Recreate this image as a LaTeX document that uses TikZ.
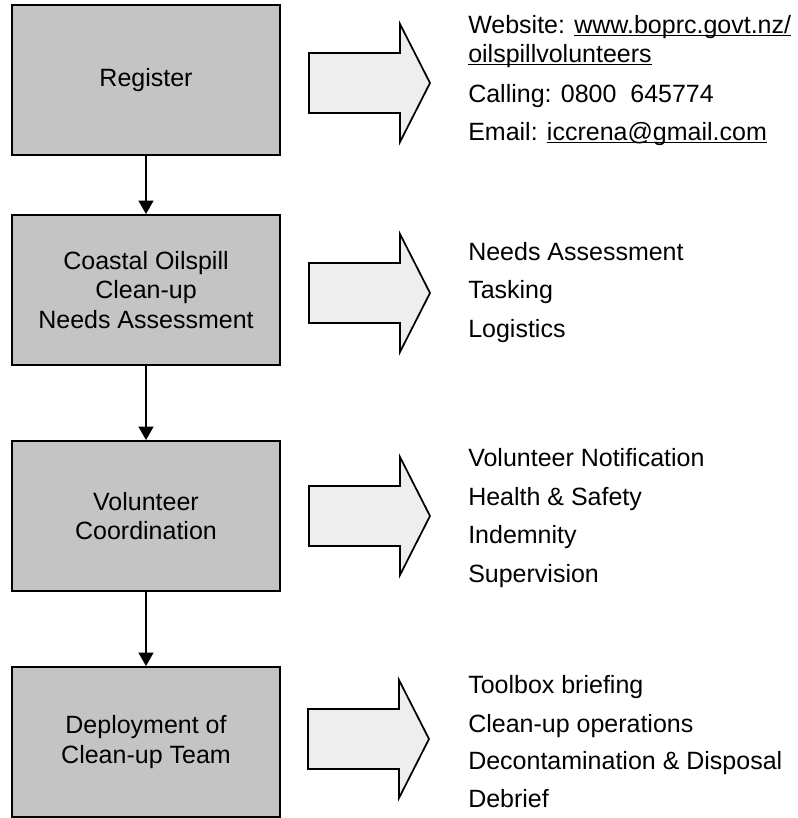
\documentclass[tikz,border=0pt]{standalone}
\usepackage{fontspec}
\setmainfont{Liberation Sans}
\usetikzlibrary{arrows.meta}
\definecolor{boxgray}{RGB}{196,196,196}
\definecolor{arrowgray}{RGB}{238,238,238}
\newcommand\ulink[1]{\setbox0\hbox{#1}\rlap{\rule[-2.6pt]{\wd0}{0.9pt}}\box0}
\tikzset{
  stepbox/.style={draw=black, line width=1.4pt, fill=boxgray, minimum width=201pt,
    minimum height=112.5pt, inner sep=0pt, align=center,
    font=\fontsize{18.75}{22.1}\selectfont},
  conn/.style={line width=1.5pt, -{Triangle[width=11pt,length=10pt]}},
  blockarr/.style={draw=black, line width=1.3pt, fill=arrowgray, line join=miter},
  textline/.style={anchor=base west, inner sep=0pt, font=\fontsize{18.75}{22}\selectfont},
  blockarrow/.pic={\draw[blockarr] (0,-30) -- (91,-30) -- (91,-59) -- (121,0) -- (91,59) -- (91,30) -- (0,30) -- cycle;}
}
\begin{document}
\begin{tikzpicture}[x=0.75pt,y=-0.75pt]
\useasboundingbox (0,0) rectangle (798,818);
% process boxes
\node[stepbox] (b1) at (146,80) {Register};
\node[stepbox] (b2) at (146,290) {Coastal Oilspill\\Clean-up\\Needs Assessment};
\node[stepbox] (b3) at (146,516) {Volunteer\\Coordination};
\node[stepbox] (b4) at (146,742) {Deployment of\\Clean-up Team};
% connectors
\draw[conn] (b1) -- (b2);
\draw[conn] (b2) -- (b3);
\draw[conn] (b3) -- (b4);
% block arrows
\pic at (309,83) {blockarrow};
\pic at (309,293) {blockarrow};
\pic at (309,516) {blockarrow};
\pic at (308,739) {blockarrow};
% text column 1
\node[textline] (t1a) at (468,33) {Website: \ulink{www.boprc.govt.nz/}};
\node[textline] (t1b) at (468,62) {\ulink{oilspillvolunteers}};
\node[textline] (t1c) at (468,102) {Calling: 0800~~645774};
\node[textline] (t1d) at (468,140) {Email: \ulink{iccrena@gmail.com}};
% text column 2
\node[textline] (t2a) at (468,260) {Needs Assessment};
\node[textline] (t2b) at (468,298) {Tasking};
\node[textline] (t2c) at (468,337) {Logistics};
% text column 3
\node[textline] (t3a) at (468,466) {Volunteer Notification};
\node[textline] (t3b) at (468,505) {Health \& Safety};
\node[textline] (t3c) at (468,543) {Indemnity};
\node[textline] (t3d) at (468,582) {Supervision};
% text column 4
\node[textline] (t4a) at (468,693) {Toolbox briefing};
\node[textline] (t4b) at (468,732) {Clean-up operations};
\node[textline] (t4c) at (468,769) {Decontamination \& Disposal};
\node[textline] (t4d) at (468,807) {Debrief};
\end{tikzpicture}
\end{document}
